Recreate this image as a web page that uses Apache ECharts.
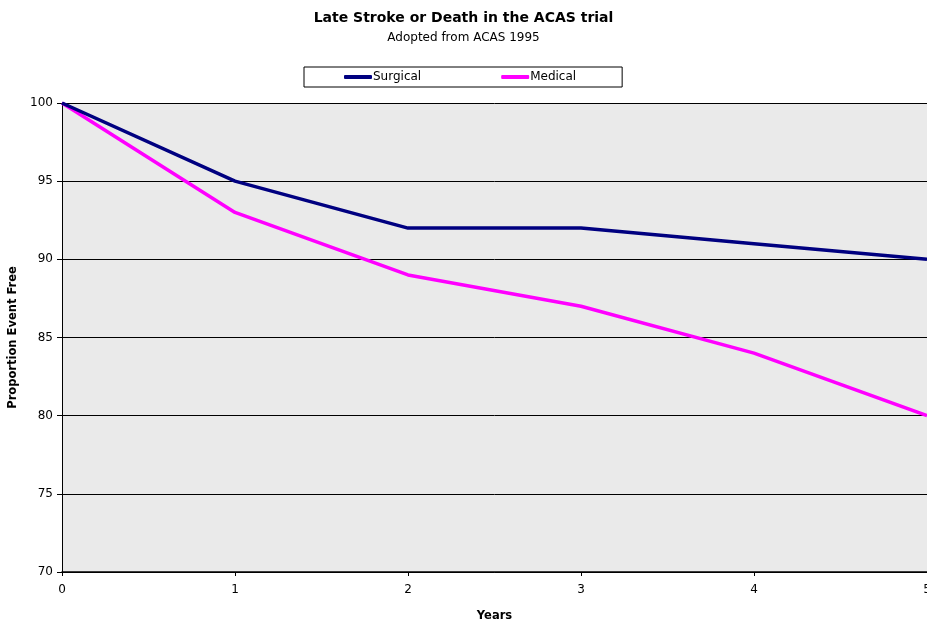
<!DOCTYPE html>
<html><head><meta charset="utf-8">
<script src="https://cdn.jsdelivr.net/npm/echarts@6/dist/echarts.min.js"></script>
<style>html,body{margin:0;padding:0;background:#fff}#c{width:927px;height:621px}</style>
</head><body><div id="c"></div>
<script>
const years = [0, 1, 2, 3, 4, 5];
const surgical = [100, 95, 92, 92, 91, 90];
const medical = [100, 93, 89, 87, 84, 80];
const yTicks = [70, 75, 80, 85, 90, 95, 100];

const font = '"DejaVu Sans", sans-serif';
const chart = echarts.init(document.getElementById('c'), null, {renderer: 'canvas'});
chart.setOption({
  animation: false,
  backgroundColor: '#ffffff',
  title: {
    text: 'Late Stroke or Death in the ACAS trial',
    subtext: 'Adopted from ACAS 1995',
    left: 'center', top: 6, itemGap: 7,
    textStyle: {fontFamily: font, fontSize: 14, fontWeight: 'bold', color: '#000'},
    subtextStyle: {fontFamily: font, fontSize: 12, color: '#000'}
  },
  legend: {
    left: 304, top: 67,
    padding: [4, 46, 4, 40],
    borderColor: '#000', borderWidth: 1, backgroundColor: '#fff',
    itemGap: 80, itemWidth: 28, itemHeight: 4,
    icon: 'roundRect',
    textStyle: {fontFamily: font, fontSize: 12, color: '#000', padding: [0, 0, 0, -4]},
    data: ['Surgical', 'Medical']
  },
  grid: {left: 62, right: 0, top: 103, bottom: 49, show: true, backgroundColor: '#eaeaea', borderWidth: 0,
         outerBoundsMode: 'none', containLabel: false},
  xAxis: {
    type: 'value', min: years[0], max: years[years.length - 1], interval: 1,
    name: 'Years', nameLocation: 'middle', nameGap: 38,
    nameTextStyle: {fontFamily: font, fontSize: 11.5, fontWeight: 'bold', color: '#000'},
    axisLine: {lineStyle: {color: '#000', width: 1.5}},
    axisTick: {show: true, length: 4, inside: false, lineStyle: {color: '#000'}},
    axisLabel: {fontFamily: font, fontSize: 12, color: '#000', margin: 12, showMaxLabel: true, hideOverlap: false},
    splitLine: {show: false}
  },
  yAxis: {
    type: 'value', min: yTicks[0], max: yTicks[yTicks.length - 1], interval: 5,
    name: 'Proportion Event Free', nameLocation: 'middle', nameGap: 43, nameRotate: 90,
    nameTextStyle: {fontFamily: font, fontSize: 11.5, fontWeight: 'bold', color: '#000'},
    axisLine: {show: true, lineStyle: {color: '#000', width: 1}},
    axisTick: {show: true, length: 5, lineStyle: {color: '#000'}},
    axisLabel: {fontFamily: font, fontSize: 12, color: '#000', margin: 9},
    splitLine: {show: true, lineStyle: {color: '#000', width: 1}}
  },
  series: [
    {name: 'Surgical', type: 'line', data: years.map((x, i) => [x, surgical[i]]),
     symbol: 'none', lineStyle: {color: '#000080', width: 3.5}, itemStyle: {color: '#000080'}, z: 3},
    {name: 'Medical', type: 'line', data: years.map((x, i) => [x, medical[i]]),
     symbol: 'none', lineStyle: {color: '#ff00ff', width: 3.5}, itemStyle: {color: '#ff00ff'}, z: 2}
  ]
});
</script></body></html>
